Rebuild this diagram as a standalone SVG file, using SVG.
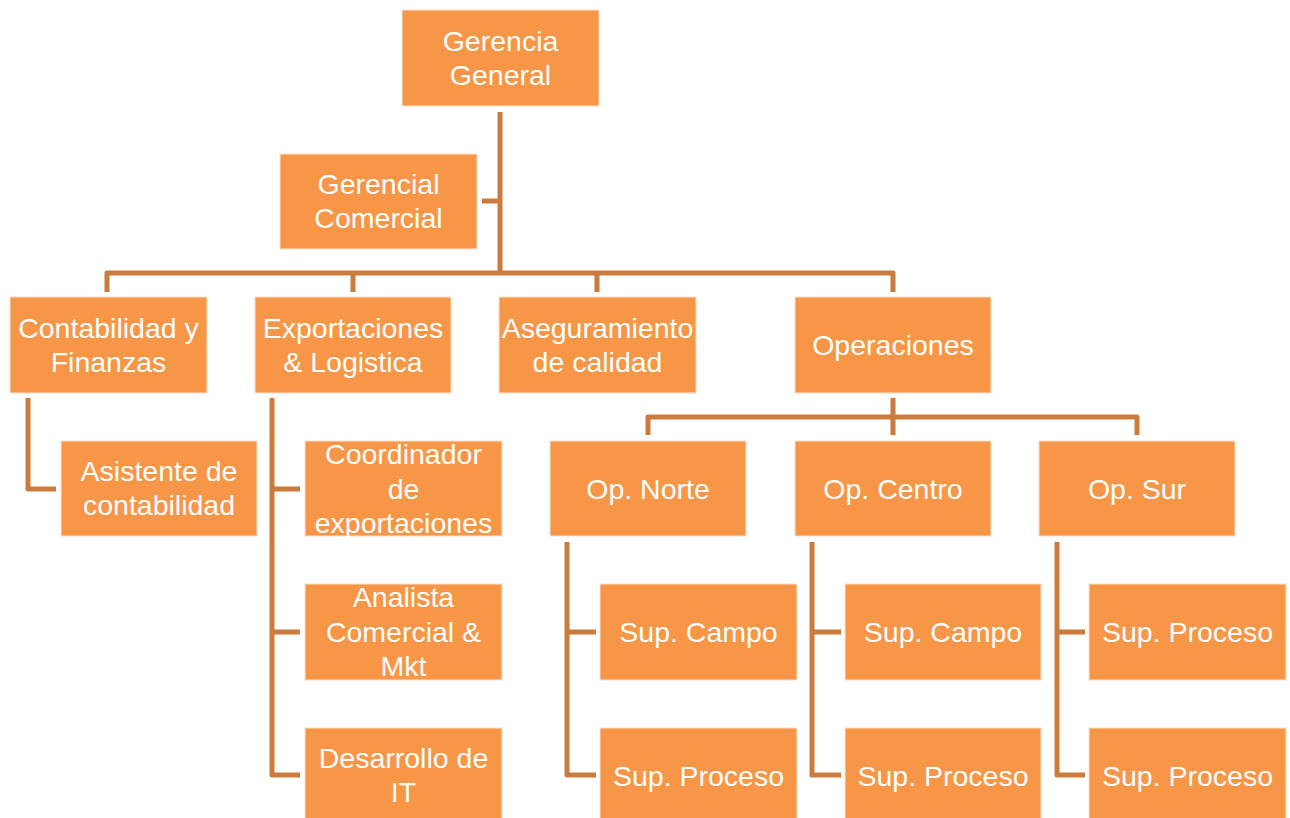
<svg xmlns="http://www.w3.org/2000/svg" width="1290" height="818" viewBox="0 0 1290 818">
<style>
.box{fill:#F79646;stroke:#FCE3D0;stroke-width:1}
.t{font-family:"Liberation Sans",Arial,sans-serif;font-size:28.5px;fill:#FFFFFF;text-anchor:middle;dominant-baseline:central}
.c{fill:none;stroke:#CB7B3C;stroke-width:5;stroke-linejoin:round;stroke-linecap:butt}
</style>
<rect width="1290" height="818" fill="#FFFFFF"/>
<g id="connectors">
<path class="c" d="M500,112 V273"/>
<path class="c" d="M482,201 H500"/>
<path class="c" d="M107,292 V273 H893 V292"/>
<path class="c" d="M353,273 V292"/>
<path class="c" d="M597,273 V292"/>
<path class="c" d="M28,398 V489 H56"/>
<path class="c" d="M272,398 V775 H300"/>
<path class="c" d="M272,489 H300"/>
<path class="c" d="M272,632 H300"/>
<path class="c" d="M893,398 V435"/>
<path class="c" d="M648,435 V417 H1137 V435"/>
<path class="c" d="M567,542 V775 H596"/>
<path class="c" d="M567,632 H596"/>
<path class="c" d="M812,542 V775 H841"/>
<path class="c" d="M812,632 H841"/>
<path class="c" d="M1057,542 V775 H1085"/>
<path class="c" d="M1057,632 H1085"/>
</g>
<g id="gerencia-general"><rect class="box" x="402" y="10" width="197" height="96"/><text class="t" x="500.5" y="41">Gerencia</text><text class="t" x="500.5" y="75">General</text></g>
<g id="gerencial-comercial"><rect class="box" x="280" y="154" width="197" height="95"/><text class="t" x="378.5" y="184">Gerencial</text><text class="t" x="378.5" y="218">Comercial</text></g>
<g id="contabilidad"><rect class="box" x="10" y="297" width="197" height="96"/><text class="t" x="108.5" y="328">Contabilidad y</text><text class="t" x="108.5" y="362">Finanzas</text></g>
<g id="exportaciones"><rect class="box" x="255" y="297" width="196" height="96"/><text class="t" x="353" y="328">Exportaciones</text><text class="t" x="353" y="362">&amp; Logistica</text></g>
<g id="aseguramiento"><rect class="box" x="499" y="297" width="197" height="96"/><text class="t" x="597.5" y="328">Aseguramiento</text><text class="t" x="597.5" y="362">de calidad</text></g>
<g id="operaciones"><rect class="box" x="795" y="297" width="196" height="96"/><text class="t" x="893" y="345">Operaciones</text></g>
<g id="asistente"><rect class="box" x="61" y="441" width="196" height="95"/><text class="t" x="159" y="471">Asistente de</text><text class="t" x="159" y="505">contabilidad</text></g>
<g id="coordinador"><rect class="box" x="305" y="441" width="197" height="95"/><text class="t" x="403.5" y="454">Coordinador</text><text class="t" x="403.5" y="489">de</text><text class="t" x="403.5" y="523">exportaciones</text></g>
<g id="analista"><rect class="box" x="305" y="584" width="197" height="96"/><text class="t" x="403.5" y="597">Analista</text><text class="t" x="403.5" y="632">Comercial &amp;</text><text class="t" x="403.5" y="666">Mkt</text></g>
<g id="desarrollo"><rect class="box" x="305" y="728" width="197" height="96"/><text class="t" x="403.5" y="758">Desarrollo de</text><text class="t" x="403.5" y="792">IT</text></g>
<g id="op-norte"><rect class="box" x="550" y="441" width="196" height="95"/><text class="t" x="648" y="489">Op. Norte</text></g>
<g id="op-centro"><rect class="box" x="795" y="441" width="196" height="95"/><text class="t" x="893" y="489">Op. Centro</text></g>
<g id="op-sur"><rect class="box" x="1039" y="441" width="196" height="95"/><text class="t" x="1137" y="489">Op. Sur</text></g>
<g id="norte-campo"><rect class="box" x="600" y="584" width="197" height="96"/><text class="t" x="698.5" y="632">Sup. Campo</text></g>
<g id="norte-proceso"><rect class="box" x="600" y="728" width="197" height="96"/><text class="t" x="698.5" y="776">Sup. Proceso</text></g>
<g id="centro-campo"><rect class="box" x="845" y="584" width="196" height="96"/><text class="t" x="943" y="632">Sup. Campo</text></g>
<g id="centro-proceso"><rect class="box" x="845" y="728" width="196" height="96"/><text class="t" x="943" y="776">Sup. Proceso</text></g>
<g id="sur-proceso-1"><rect class="box" x="1089" y="584" width="197" height="96"/><text class="t" x="1187.5" y="632">Sup. Proceso</text></g>
<g id="sur-proceso-2"><rect class="box" x="1089" y="728" width="197" height="96"/><text class="t" x="1187.5" y="776">Sup. Proceso</text></g>
</svg>
